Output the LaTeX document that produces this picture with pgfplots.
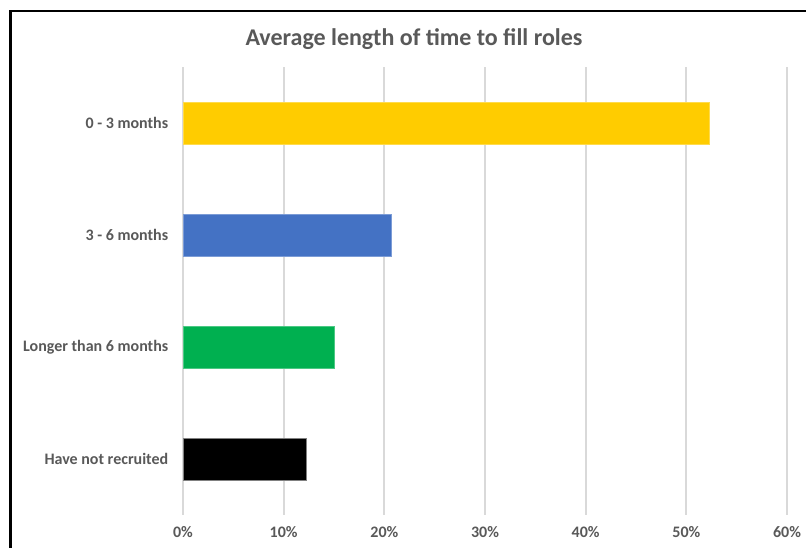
\documentclass[border=0pt]{standalone}
\usepackage{pgfplots}
\pgfplotsset{compat=1.18}
\usepackage{fontspec}
\setmainfont{Carlito}
\definecolor{txt}{HTML}{595959}
\definecolor{grd}{HTML}{D9D9D9}
\definecolor{cyel}{HTML}{FFCC00}
\definecolor{cblu}{HTML}{4472C4}
\definecolor{cgrn}{HTML}{00B050}
\begin{document}
\begin{tikzpicture}[x=1pt,y=1pt]
\path[use as bounding box] (0,0) rectangle (806,547);
\clip (0,0) rectangle (806,547);
\fill[white] (0,0) rectangle (806,547);
\begin{axis}[
  at={(183pt,32pt)}, anchor=south west,
  scale only axis, width=604pt, height=448pt,
  xmin=0, xmax=60, ymin=-0.5, ymax=3.5,
  y dir=reverse,
  xbar, bar width=42pt, bar shift=0pt,
  xtick={0,10,20,30,40,50,60},
  xticklabels={0\%,10\%,20\%,30\%,40\%,50\%,60\%},
  ytick={0,1,2,3},
  yticklabels={0 - 3 months,3 - 6 months,Longer than 6 months,Have not recruited},
  xmajorgrids, major grid style={grd, line width=2pt},
  axis line style={draw=none}, tick style={draw=none},
  ticklabel style={font=\bfseries\fontsize{16}{18}\selectfont, text=txt},
  xticklabel style={yshift=-8pt},
  yticklabel style={xshift=-7pt},
]
\addplot[fill=cyel, draw=cyel!70!white, line width=0.5pt] coordinates {(52.3,0)};
\addplot[fill=cblu, draw=cblu!70!white, line width=0.5pt] coordinates {(20.7,1)};
\addplot[fill=cgrn, draw=cgrn!70!white, line width=0.5pt] coordinates {(15.0,2)};
\addplot[fill=black, draw=gray, line width=0.5pt] coordinates {(12.2,3)};
\end{axis}
\node[font=\bfseries\fontsize{24}{28}\selectfont, text=txt] at (414,508) {Average length of time to fill roles};
\draw[line width=2.5pt] (10.5,-5) -- (10.5,536) -- (820,536);
\end{tikzpicture}
\end{document}
